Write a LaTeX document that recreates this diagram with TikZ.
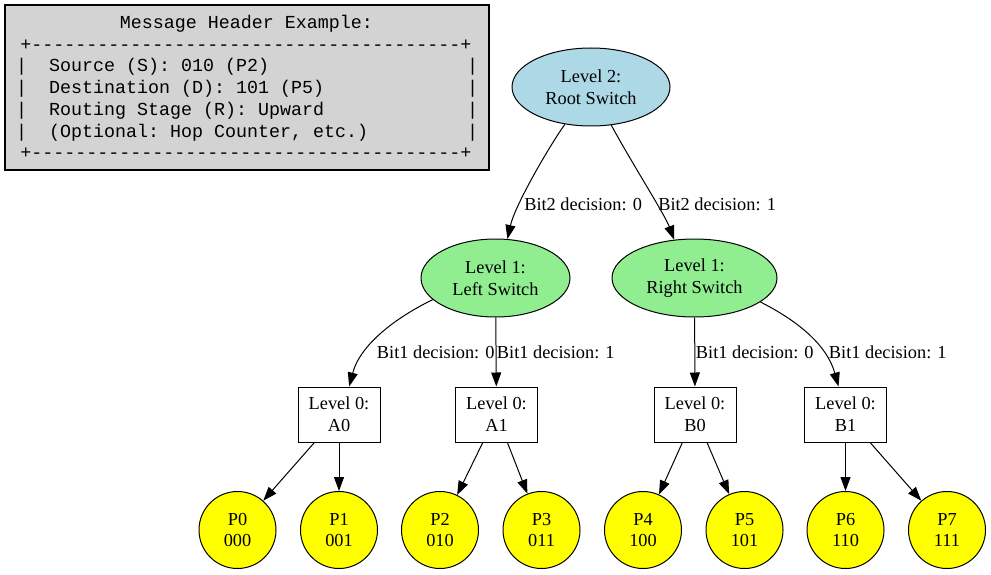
\documentclass[tikz,border=0pt]{standalone}
\usepackage{fontspec}
\setmainfont{Liberation Serif}
\setmonofont{Liberation Mono}
\usetikzlibrary{arrows.meta,shapes.geometric}
\definecolor{hdrgray}{RGB}{211,211,211}
\definecolor{lblue}{RGB}{173,216,230}
\definecolor{lgreen}{RGB}{144,238,144}
\definecolor{pyellow}{RGB}{255,255,0}
\def\dten{----------}
\def\sten{~~~~~~~~~~}
\begin{document}
\begin{tikzpicture}[x=0.75pt,y=-0.75pt,
  every node/.style={font=\fontsize{13.75pt}{16.3pt}\selectfont, inner sep=0pt, align=center},
  hdrbox/.style={draw, line width=0.8pt, fill=hdrgray, rectangle, minimum width=363pt, minimum height=123.75pt},
  hdrline/.style={anchor=base, font=\fontsize{13.75pt}{16.3pt}\selectfont\ttfamily},
  rootsw/.style={draw, ellipse, line width=0.75pt, fill=lblue, minimum width=118.5pt, minimum height=58.5pt},
  midsw/.style={draw, ellipse, line width=0.75pt, fill=lgreen, minimum height=58.5pt},
  leafsw/.style={draw, rectangle, line width=0.75pt, fill=white, minimum width=61.5pt, minimum height=41.25pt},
  proc/.style={draw, circle, line width=0.75pt, fill=pyellow, minimum size=57.75pt},
  lbl/.style={anchor=base west},
  arr/.style={-{Triangle[length=10.5pt,width=7.5pt]}, line width=0.75pt}]
\useasboundingbox (0,0) rectangle (991,574);

% header
\node[hdrbox] (hdr) at (247,87.5) {};
\node[hdrline] (h0) at (246.5,28.6) {Message Header Example:};
\node[hdrline] (h1) at (246,50.3) {+\dten\dten\dten---------+};
\node[hdrline] (h2) at (247.2,72) {|~~Source~(S):~010~(P2)\sten~~~~~~~~|};
\node[hdrline] (h3) at (247.2,93.7) {|~~Destination~(D):~101~(P5)~~~\sten|};
\node[hdrline] (h4) at (247.2,115.4) {|~~Routing~Stage~(R):~Upward~~~\sten|};
\node[hdrline] (h5) at (247.2,137.1) {|~~(Optional:~Hop~Counter,~etc.)~~~~~~~~~|};
\node[hdrline] (h6) at (246,158.8) {+\dten\dten\dten---------+};

% switches
\node[rootsw] (root) at (591,87) {Level 2:\\Root Switch};
\node[midsw, minimum width=111.75pt] (lsw) at (495.5,278) {Level 1:\\Left Switch};
\node[midsw, minimum width=123.75pt] (rsw) at (694.5,278) {Level 1:\\Right Switch};

\node[leafsw] (a0) at (339,414.5) {Level 0:\\A0};
\node[leafsw] (a1) at (496.5,414.5) {Level 0:\\A1};
\node[leafsw] (b0) at (695,414.5) {Level 0:\\B0};
\node[leafsw] (b1) at (845.5,414.5) {Level 0:\\B1};

\node[proc] (p0) at (237.5,530) {P0\\000};
\node[proc] (p1) at (339,530) {P1\\001};
\node[proc] (p2) at (440,530) {P2\\010};
\node[proc] (p3) at (541.5,530) {P3\\011};
\node[proc] (p4) at (643,530) {P4\\100};
\node[proc] (p5) at (744.5,530) {P5\\101};
\node[proc] (p6) at (845.5,530) {P6\\110};
\node[proc] (p7) at (947,530) {P7\\111};

% edges
\draw[arr] (root.235.6) .. controls (550,145) and (515,205) .. (lsw.73.6);
\draw[arr] (root.-62.9) .. controls (630,160) and (665,215) .. (rsw.118.3);
\draw[arr] (lsw.199.4) .. controls (395,318) and (360,345) .. (a0.70.7);
\draw[arr] (lsw) -- (a1);
\draw[arr] (rsw) -- (b0);
\draw[arr] (rsw.-20.9) .. controls (798,321) and (827,345) .. (b1.104.7);
\draw[arr] (a0) -- (p0);
\draw[arr] (a0) -- (p1);
\draw[arr] (a1) -- (p2);
\draw[arr] (a1) -- (p3);
\draw[arr] (b0) -- (p4);
\draw[arr] (b0) -- (p5);
\draw[arr] (b1) -- (p6);
\draw[arr] (b1) -- (p7);

% edge labels
\node[lbl] (l20) at (524,210.7) {Bit2 decision: 0};
\node[lbl] (l21) at (658,210.7) {Bit2 decision: 1};
\node[lbl] (l10a) at (376.7,358.7) {Bit1 decision: 0};
\node[lbl] (l11a) at (496.7,358.7) {Bit1 decision: 1};
\node[lbl] (l10b) at (695.7,358.7) {Bit1 decision: 0};
\node[lbl] (l11b) at (828.7,358.7) {Bit1 decision: 1};
\end{tikzpicture}
\end{document}
